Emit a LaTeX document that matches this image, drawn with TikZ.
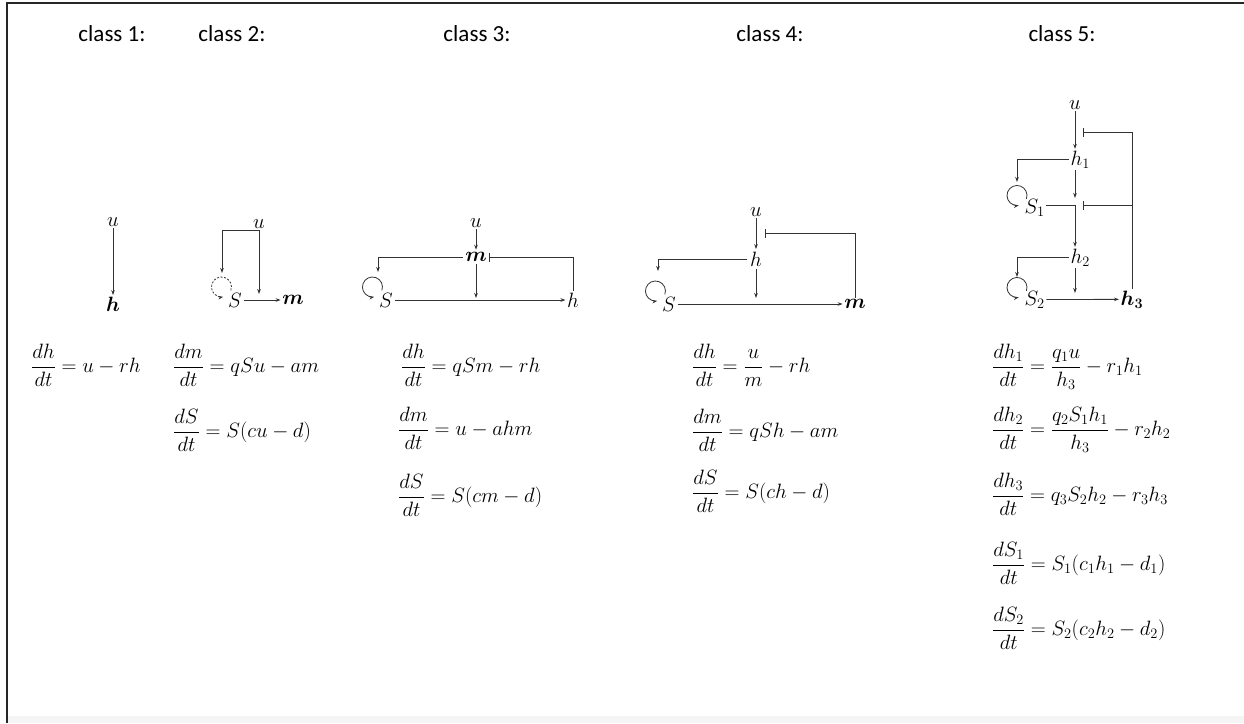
\documentclass[tikz,border=0pt]{standalone}
\usepackage{amsmath}
\usepackage{fontspec}
\newfontfamily\titlefont{Carlito}
\usepackage{bm}
\usetikzlibrary{arrows.meta,calc}
\newcommand\lbfont{\fontsize{20.74}{23}\selectfont}
\begin{document}
\begin{tikzpicture}[x=1pt,y=-1pt,
  lbl/.style={inner sep=1.5pt,font=\lbfont},
  ttl/.style={anchor=base,inner sep=0pt,font=\titlefont\fontsize{23}{26}\selectfont},
  eqn/.style={anchor=base west,inner sep=0pt,font=\fontsize{20.74}{25}\selectfont},
  wire/.style={line width=0.8pt,draw=black!80},
  arr/.style={wire,-{Stealth[length=5pt,width=3.6pt]}},
  inh/.style={wire,-{Bar[width=9pt,line width=0.8pt]}},
  selfloop/.style={arr},
  dselfloop/.style={arr,dash pattern=on 2pt off 1.6pt},
]
\useasboundingbox (0,0) rectangle (1244,723);
% frame
\fill[gray!8] (7,716) rectangle (1244,723);
\draw[line width=2pt,black!85] (7,723) -- (7,3) -- (1244,3);

% titles
\node[ttl] (t1) at (112,41) {class 1:};
\node[ttl] (t2) at (232,41) {class 2:};
\node[ttl] (t3) at (477,41) {class 3:};
\node[ttl] (t4) at (770,41) {class 4:};
\node[ttl] (t5) at (1062,41) {class 5:};

% ---------- class 1
\node[lbl] (u1) at (113,222) {$u$};
\node[lbl] (h1) at (113,304) {$\bm{h}$};
\draw[arr] (u1) -- (h1);

% ---------- class 2
\node[lbl,anchor=south] (u2) at (259,230) {$u$};
\node[lbl] (S2) at (235,300) {$S$};
\node[lbl] (m2) at (293,300) {$\bm{m}$};
\coordinate (a2) at (222,273);
\coordinate (b2) at (259,294);
\draw[arr] (u2.south) -| (a2);
\draw[arr] (u2.south) -- (b2);
\draw[arr] (S2.east) -- (m2.west);
\draw[dselfloop] ($(S2.west)+(-5,-13)+(20:10)$) arc[start angle=20,end angle=-280,radius=10];

% ---------- class 3
\node[lbl] (u3) at (476,223) {$u$};
\node[lbl,inner sep=2.5pt] (m3) at (476,257) {$\bm{m}$};
\node[lbl] (S3) at (386,300) {$S$};
\node[lbl] (h3) at (573,300) {$h$};
\coordinate (a3) at (378,272);
\coordinate (b3) at (476,298);
\draw[arr] (u3) -- (m3);
\draw[arr] (m3.west) -| (a3);
\draw[inh] (h3.north) |- (m3.east);
\draw[arr] (m3.south) -- (b3);
\draw[arr] (S3.east) -- (h3.west);
\draw[selfloop] ($(S3.west)+(-5,-13)+(20:10)$) arc[start angle=20,end angle=-280,radius=10];

% ---------- class 4
\node[lbl] (u4) at (756,212) {$u$};
\node[lbl,inner sep=2.5pt] (h4) at (756,259) {$h$};
\node[lbl] (S4) at (669,304) {$S$};
\node[lbl] (m4) at (855,304) {$\bm{m}$};
\coordinate (i4) at (765,233);
\coordinate (a4) at (658,271);
\coordinate (b4) at (756,298);
\draw[arr] (u4) -- (h4);
\draw[inh] (m4.north) |- (i4);
\draw[arr] (h4.west) -| (a4);
\draw[arr] (h4.south) -- (b4);
\draw[arr] (S4.east) -- (m4.west);
\draw[selfloop] ($(S4.west)+(-5,-13)+(20:10)$) arc[start angle=20,end angle=-280,radius=10];

% ---------- class 5
\node[lbl] (u5) at (1075,105) {$u$};
\node[lbl,anchor=base west] (h51) at (1069,165) {$h_1$};
\node[lbl,anchor=base west] (S51) at (1023,213) {$S_1$};
\node[lbl,anchor=base west] (h52) at (1069,263) {$h_2$};
\node[lbl,anchor=base west] (S52) at (1023,305) {$S_2$};
\node[lbl,anchor=base west] (h53) at (1119,305) {$\bm{h_3}$};
\coordinate (a51) at (1017,182);
\coordinate (j5t) at (1075,198);
\coordinate (j5) at (1075,205);
\coordinate (a52) at (1017,277);
\coordinate (b5) at (1075,293);
\coordinate (i51) at (1083,132);
\coordinate (i52) at (1083,205);
\draw[arr] (u5.south) -- (u5.south |- h51.north);
\draw[arr] (h51.west) -| (a51);
\draw[arr] (u5.south |- h51.south) -- (j5t);
\draw[wire] (S51.east |- j5) -- (j5);
\draw[arr] (j5) -- (j5 |- h52.north);
\draw[arr] (h52.west) -| (a52);
\draw[arr] (j5 |- h52.south) -- (b5);
\draw[arr] (S52.east) -- (h53.west);
\draw[inh] (h53.north) |- (i51);
\draw[inh] (h53.north |- i52) -- (i52);
\draw[selfloop] ($(S51.west)+(-6,-12)+(20:10)$) arc[start angle=20,end angle=-280,radius=10];
\draw[selfloop] ($(S52.west)+(-6,-12)+(20:10)$) arc[start angle=20,end angle=-280,radius=10];

% ---------- equations
\node[eqn] (e1) at (31,372.5) {$\dfrac{dh}{dt}=u-rh$};

\node[eqn] (e21) at (173,372.5) {$\dfrac{dm}{dt}=qSu-am$};
\node[eqn] (e22) at (173,437.5) {$\dfrac{dS}{dt}=S(cu-d)$};

\node[eqn] (e31) at (401,372.5) {$\dfrac{dh}{dt}=qSm-rh$};
\node[eqn] (e32) at (398,435.5) {$\dfrac{dm}{dt}=u-ahm$};
\node[eqn] (e33) at (398,502.5) {$\dfrac{dS}{dt}=S(cm-d)$};

\node[eqn] (e41) at (692,372.5) {$\dfrac{dh}{dt}=\dfrac{u}{m}-rh$};
\node[eqn] (e42) at (692,437.5) {$\dfrac{dm}{dt}=qSh-am$};
\node[eqn] (e43) at (692,498.5) {$\dfrac{dS}{dt}=S(ch-d)$};

\node[eqn] (e51) at (992,372.5) {$\dfrac{dh_1}{dt}=\dfrac{q_1u}{h_3}-r_1h_1$};
\node[eqn] (e52) at (992,435.5) {$\dfrac{dh_2}{dt}=\dfrac{q_2S_1h_1}{h_3}-r_2h_2$};
\node[eqn] (e53) at (992,501.5) {$\dfrac{dh_3}{dt}=q_3S_2h_2-r_3h_3$};
\node[eqn] (e54) at (992,570.5) {$\dfrac{dS_1}{dt}=S_1(c_1h_1-d_1)$};
\node[eqn] (e55) at (992,635.5) {$\dfrac{dS_2}{dt}=S_2(c_2h_2-d_2)$};
\end{tikzpicture}
\end{document}
